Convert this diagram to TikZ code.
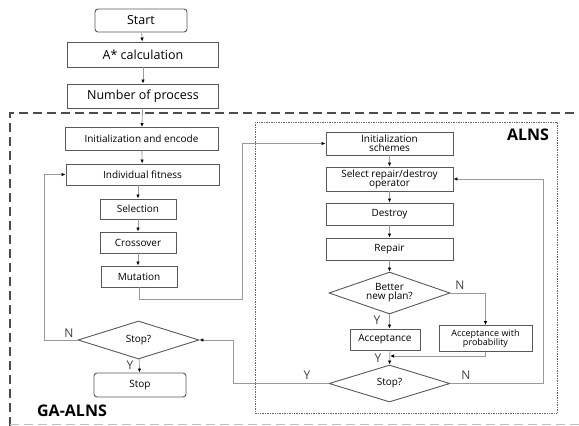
\documentclass[tikz,border=0pt]{standalone}
\usepackage{fontspec}
\setmainfont{Open Sans}
\usetikzlibrary{shapes.geometric,arrows.meta}

\tikzset{
  box/.style={draw=black!65, line width=0.9pt, fill=white, inner sep=0pt, align=center, font=\fontsize{10}{11}\selectfont},
  bigbox/.style={box, font=\fontsize{12.5}{14}\selectfont},
  endbox/.style={box, rounded corners=3pt},
  decision/.style={diamond, draw=black!65, line width=0.9pt, fill=white, inner sep=0pt, align=center, font=\fontsize{10}{11}\selectfont},
  arr/.style={draw=black!40, line width=0.8pt, -{Latex[length=4pt,width=3.5pt,color=black]}},
  yn/.style={font=\fontsize{12}{12}\selectfont, text=black!75, inner sep=0pt},
  frametitle/.style={font=\bfseries\fontsize{16}{16}\selectfont, inner sep=1pt}
}
\newcommand{\flatlines}[1]{\makebox[0pt]{\smash{\raisebox{-2.5pt}{\begin{tabular}{@{}c@{}}#1\end{tabular}}}}}

\begin{document}
\begin{tikzpicture}[x=1pt,y=-1pt]
  \useasboundingbox (0,0) rectangle (579,426);

  % frames
  \draw[black!70, line width=1.4pt, dash pattern=on 9pt off 5pt] (10,426) -- (10,113) -- (600,113);
  \draw[black!25, line width=1pt, dash pattern=on 9pt off 5pt] (10,424) -- (600,424);
  \draw[black!60, line width=0.7pt, densely dotted] (255,122) rectangle (557,413);

  % top part
  \node[endbox, bigbox, rounded corners=3pt, minimum width=92, minimum height=23] (start) at (141,20.5) {Start};
  \node[bigbox, minimum width=151, minimum height=25] (astar) at (143,54.5) {A* calculation};
  \node[bigbox, minimum width=151, minimum height=24] (nproc) at (143,96) {Number of process};

  % GA part
  \node[box, minimum width=153, minimum height=23] (init) at (141.5,139) {Initialization and encode};
  \node[box, minimum width=153, minimum height=21] (fit) at (142.5,174.5) {Individual fitness};
  \node[box, minimum width=76, minimum height=20] (sel) at (138,209) {Selection};
  \node[box, minimum width=76, minimum height=21] (cross) at (138,242.5) {Crossover};
  \node[box, minimum width=76, minimum height=21] (mut) at (139,276.5) {Mutation};
  \node[decision, minimum width=121, minimum height=38] (gstop) at (138.5,340) {Stop?};
  \node[endbox, minimum width=92, minimum height=24] (stop) at (140,385) {Stop};
  \node[frametitle] (gatitle) at (72,411) {GA-ALNS};

  % ALNS part
  \node[frametitle, fill=white] (alnstitle) at (528,135) {ALNS};
  \node[box, minimum width=127, minimum height=23] (scheme) at (389.5,143.5) {Initialization\\[-2pt]schemes};
  \node[box, minimum width=127, minimum height=24] (select) at (389.5,179) {Select repair/destroy\\[-2pt]operator};
  \node[box, minimum width=127, minimum height=22] (destroy) at (389.5,214) {Destroy};
  \node[box, minimum width=127, minimum height=22] (repair) at (389.5,249) {Repair};
  \node[decision, minimum width=121, minimum height=42] (better) at (389.5,293) {\flatlines{Better\\[-2pt]new plan?}};
  \node[box, minimum width=70, minimum height=21] (acc) at (385,339.5) {Acceptance};
  \node[box, minimum width=93, minimum height=26, font=\fontsize{9}{9.5}\selectfont] (accp) at (485.5,338.5) {Acceptance with\\probability};
  \node[decision, minimum width=121, minimum height=37] (astop) at (389.5,383.5) {Stop?};

  \coordinate (mbend) at (242,299);
  \coordinate (nback) at (44,340);
  \coordinate (yback) at (233,383.5);
  \coordinate (nloop) at (543,383.5);
  \coordinate (merge) at (390,356);

  % connectors
  \draw[arr] (start) -- (astar);
  \draw[arr] (astar) -- (nproc);
  \draw[arr] (nproc) -- (init);
  \draw[arr] (init) -- (fit);
  \draw[arr] (fit.south -| sel.north) -- (sel);
  \draw[arr] (sel) -- (cross);
  \draw[arr] (cross.south) -- (cross.south |- mut.north);
  \draw[arr] (mut.south) |- (mbend) |- (scheme.west);
  \draw[arr] (gstop.west) -- (nback) |- (fit.west);
  \draw[arr] (gstop) -- (stop);
  \draw[arr] (scheme) -- (select);
  \draw[arr] (select) -- (destroy);
  \draw[arr] (destroy) -- (repair);
  \draw[arr] (repair) -- (better);
  \draw[arr] (better.south) -- (better.south |- acc.north);
  \draw[arr] (better.east) -| (accp.north);
  \draw[arr] (acc.south -| merge) -- (astop.north);
  \draw[arr] (accp.south) |- (merge);
  \draw[arr] (astop.east) -- (nloop) |- (select.east);
  \draw[arr] (astop.west) -- (yback) |- (gstop.east);

  % Y / N
  \node[yn] (gn) at (69,333) {N};
  \node[yn] (gy) at (130,365) {Y};
  \node[yn] (bn) at (460,285) {N};
  \node[yn] (by) at (377,320) {Y};
  \node[yn] (ay) at (378,358) {Y};
  \node[yn] (sy) at (307,375) {Y};
  \node[yn] (sn) at (466,375) {N};
\end{tikzpicture}
\end{document}
